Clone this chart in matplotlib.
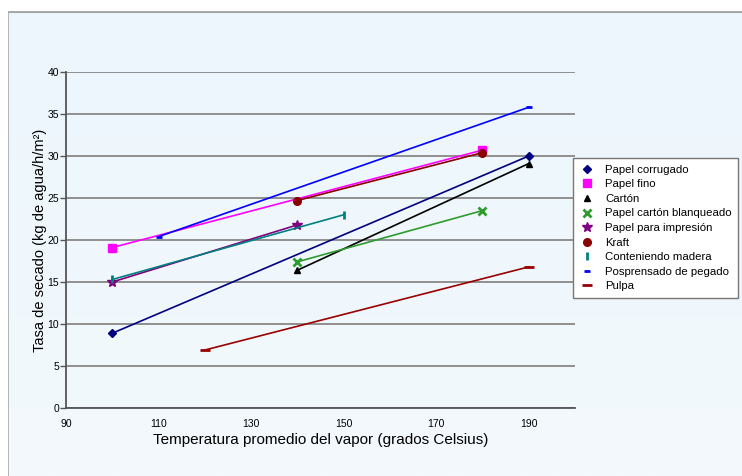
import numpy as np
import matplotlib
matplotlib.use("Agg")
import matplotlib.pyplot as plt
from matplotlib.patches import Rectangle

plt.rcParams['font.family'] = ['Liberation Sans', 'DejaVu Sans']

# --- data ---
labels = ["Papel corrugado", "Papel fino", "Cartón", "Papel cartón blanqueado",
          "Papel para impresión", "Kraft", "Conteniendo madera",
          "Posprensado de pegado", "Pulpa"]
temps = [[100, 190], [100, 180], [140, 190], [140, 180], [100, 140],
         [140, 180], [100, 150], [110, 190], [120, 190]]
rates = [[8.9, 30.0], [19.1, 30.7], [16.4, 29.1], [17.4, 23.5], [15.0, 21.8],
         [24.7, 30.4], [15.3, 23.0], [20.4, 35.8], [6.9, 16.8]]
x_ticks = [90, 110, 130, 150, 170, 190]
y_ticks = [0, 5, 10, 15, 20, 25, 30, 35, 40]

# --- styles ---
colors = ["#000080", "#FF00FF", "#000000", "#2E9B2E", "#800080",
          "#8B0000", "#008080", "#0000FF", "#990000"]
markers = ["D", "s", "^", "x", "*", "o", "|", "_", "_"]
msizes = [4.5, 6, 5, 5.5, 7, 5.5, 6, 5, 7]

fig = plt.figure(figsize=(7.42, 4.76), dpi=100)
fig.patch.set_facecolor("white")

# light blue panel with gray border (extends past right/bottom edges)
bg = fig.add_axes([0, 0, 1, 1], zorder=-2)
grad = np.linspace(0, 1, 200).reshape(-1, 1)
bg.imshow(grad, extent=[0, 1, 0, 1], aspect="auto",
          cmap=matplotlib.colors.LinearSegmentedColormap.from_list(
              "bgc", ["#F3F9FD", "#ECF6FC"]), origin="lower")
bg.add_patch(Rectangle((7.5 / 742, -0.1), 1.2, 1 - 10.5 / 476 + 0.1,
                       fill=False, edgecolor="#999999", linewidth=2))
bg.set_xlim(0, 1)
bg.set_ylim(0, 1)
bg.axis("off")
# white strip above / left of the panel
bg.add_patch(Rectangle((0, 1 - 9.5 / 476), 1, 1, color="white", zorder=3))
bg.add_patch(Rectangle((0, 0), 6.5 / 742, 1, color="white", zorder=3))

ax = fig.add_axes([66 / 742, 1 - 408 / 476, (575 - 66) / 742, (408 - 72) / 476])
ax.set_facecolor("none")

for lab, xs, ys, c, m, ms in zip(labels, temps, rates, colors, markers, msizes):
    mew = 2 if m in ("x", "|", "_") else 1
    ax.plot(xs, ys, color=c, marker=m, markersize=ms, linewidth=1.2,
            markeredgewidth=mew, label=lab)

ax.set_xlim(90, 200)
ax.set_ylim(0, 40)
ax.set_xticks(x_ticks)
ax.set_yticks(y_ticks)
ax.tick_params(axis="x", length=0, pad=8, labelsize=7.5)
ax.tick_params(axis="y", length=4, width=1, color="#555555", labelsize=7.5, pad=1)
ax.yaxis.grid(True, color="#888888", linewidth=1.3)
ax.set_axisbelow(True)
for s in ["top", "right"]:
    ax.spines[s].set_visible(False)
for s in ["left", "bottom"]:
    ax.spines[s].set_color("#555555")
    ax.spines[s].set_linewidth(1.3)

ax.set_xlabel("Temperatura promedio del vapor (grados Celsius)", fontsize=11, labelpad=3)
ax.set_ylabel("Tasa de secado (kg de agua/h/m²)", fontsize=10.5, labelpad=0)

leg = fig.legend(loc="upper left", bbox_to_anchor=(573 / 742, 1 - 158 / 476),
                 fontsize=8.2, frameon=True, fancybox=False, framealpha=1,
                 edgecolor="#777777", handlelength=1.2, handletextpad=1.0,
                 borderpad=0.6, labelspacing=0.4, borderaxespad=0)
for h in leg.legend_handles:
    h.set_linestyle("none")
leg.get_frame().set_linewidth(1.0)

fig.savefig("out.png", dpi=100)
